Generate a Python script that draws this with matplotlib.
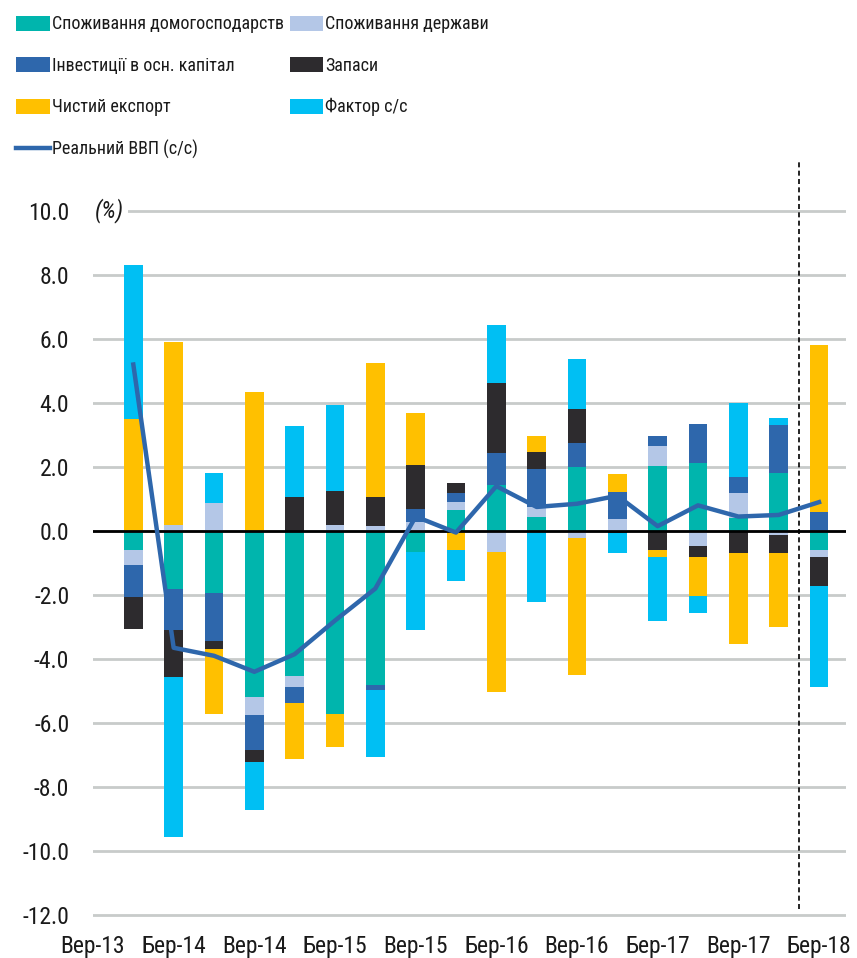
import numpy as np
import matplotlib
matplotlib.use("Agg")
import matplotlib.pyplot as plt
from matplotlib.patches import Patch
from matplotlib.lines import Line2D

plt.rcParams['font.family'] = ['Roboto Condensed', 'Roboto', 'DejaVu Sans']

# contributions to real GDP growth, p.p. (Q4-13 .. Q1-18)
hh_cons = [-0.6, -1.8, -1.95, -5.2, -4.53, -5.72, -4.81, -0.67, 0.66, 1.44, 0.43, 1.99, 0.0, 2.03, 2.11, 0.4, 1.8, -0.61]
gov_cons = [-0.45, 0.2, 0.86, -0.55, -0.33, 0.2, 0.15, 0.29, 0.23, -0.65, 0.33, -0.23, 0.36, 0.63, -0.47, 0.8, -0.13, -0.21]
investment = [-1.0, -1.3, -1.5, -1.1, -0.53, 0.0, -0.16, 0.39, 0.31, 0.99, 1.17, 0.77, 0.87, 0.31, 1.23, 0.48, 1.51, 0.6]
inventories = [-1.0, -1.45, -0.23, -0.38, 1.05, 1.05, 0.92, 1.38, 0.31, 2.2, 0.55, 1.05, -0.06, -0.61, -0.33, -0.68, -0.57, -0.9]
net_export = [3.5, 5.7, -2.03, 4.35, -1.74, -1.02, 4.17, 1.62, -0.59, -4.37, 0.49, -4.27, 0.55, -0.19, -1.23, -2.85, -2.31, 5.21]
sa_factor = [4.8, -5.0, 0.94, -1.48, 2.24, 2.67, -2.1, -2.42, -0.96, 1.79, -2.21, 1.55, -0.62, -2.0, -0.54, 2.31, 0.21, -3.17]
real_gdp = [5.2, -3.65, -3.9, -4.4, -3.85, -2.8, -1.8, 0.45, -0.05, 1.4, 0.75, 0.85, 1.1, 0.15, 0.8, 0.45, 0.5, 0.9]

tick_labels = ['Вер-13', 'Бер-14', 'Вер-14', 'Бер-15', 'Вер-15',
               'Бер-16', 'Вер-16', 'Бер-17', 'Вер-17', 'Бер-18']

series = [
    ('Споживання домогосподарств', hh_cons, '#00B5AD'),
    ('Споживання держави', gov_cons, '#B4C7E7'),
    ('Інвестиції в осн. капітал', investment, '#2E67AC'),
    ('Запаси', inventories, '#2D2B2E'),
    ('Чистий експорт', net_export, '#FFC000'),
    ('Фактор с/с', sa_factor, '#00BFF3'),
]
gdp_label = 'Реальний ВВП (с/с)'
gdp_color = '#2E67AC'

fig = plt.figure(figsize=(8.57, 9.58), dpi=100)
ax = fig.add_axes([0.1085, 0.0415, 0.8787, 0.7935])

x = np.arange(len(real_gdp))
pos_base = np.zeros(len(x))
neg_base = np.zeros(len(x))
for name, vals, col in series:
    v = np.array(vals)
    bottom = np.where(v >= 0, pos_base, neg_base)
    ax.bar(x, v, 0.46, bottom=bottom, color=col, zorder=3)
    pos_base += np.where(v >= 0, v, 0)
    neg_base += np.where(v < 0, v, 0)

ax.axhline(0, color='black', lw=2, zorder=4)
ax.plot(x, real_gdp, color=gdp_color, lw=3.2, zorder=5)

# forecast divider
ax.plot([16.5, 16.5], [-11.8, 11.6], color='black', lw=1.2, ls=(0, (3, 2)), zorder=2)

ax.set_xlim(-1.0, 17.67)
ax.set_ylim(-12.1, 11.65)
ax.set_yticks(np.arange(-12, 11, 2))
ax.set_yticklabels([f'{t:.1f}' for t in np.arange(-12, 11, 2)])
ax.set_xticks(np.arange(-1, 18, 2))
ax.set_xticklabels(tick_labels)
ax.tick_params(axis='both', length=0, labelsize=17, colors='#1a1a1a')
ax.tick_params(axis='y', pad=17)
ax.tick_params(axis='x', pad=12)
ax.grid(axis='y', color='#C8CBCA', lw=2, zorder=0)
for s in ax.spines.values():
    s.set_visible(False)

ax.text(-0.96, 10, '(%)', fontsize=17, style='italic', ha='left', va='center',
        color='#1a1a1a', zorder=6,
        bbox=dict(facecolor='white', edgecolor='none', pad=3))

# legend, two columns
h = {name: Patch(facecolor=col, label=name) for name, _, col in series}
left_items = [h[series[0][0]], h[series[2][0]], h[series[4][0]],
              Line2D([0], [0], color=gdp_color, lw=3.2, label=gdp_label)]
right_items = [h[series[1][0]], h[series[3][0]], h[series[5][0]]]
leg_kw = dict(loc='upper left', frameon=False, fontsize=13, handlelength=1.85,
              handleheight=0.9, handletextpad=0.12, labelspacing=1.3,
              borderpad=0, borderaxespad=0, labelcolor='#1a1a1a')
fig.legend(handles=left_items, bbox_to_anchor=(0.019, 0.984), **leg_kw)
fig.legend(handles=right_items, bbox_to_anchor=(0.338, 0.984), **leg_kw)

fig.savefig('out.png', dpi=100)
